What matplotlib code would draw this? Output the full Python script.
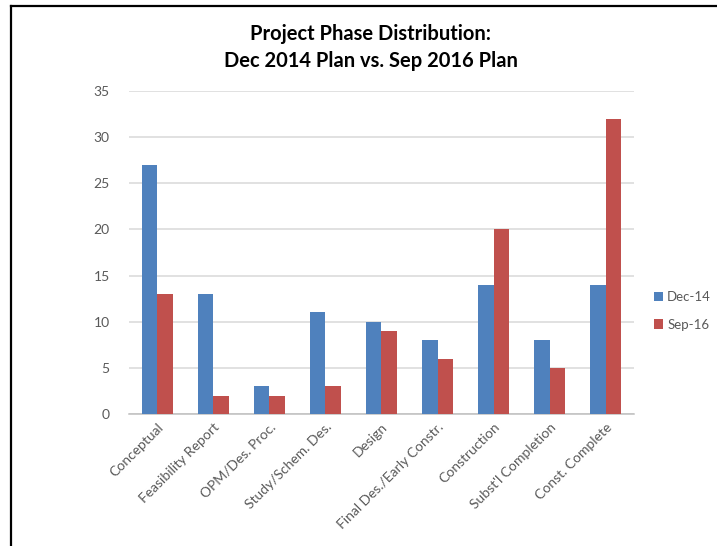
import matplotlib
matplotlib.use("Agg")
import matplotlib.pyplot as plt
from matplotlib.lines import Line2D
from matplotlib.patches import Patch
import numpy as np

# phase counts per plan
phases = ["Conceptual", "Feasibility Report", "OPM/Des. Proc.", "Study/Schem. Des.",
          "Design", "Final Des./Early Constr.", "Construction", "Subst'l Completion",
          "Const. Complete"]
dec_14 = [27, 13, 3, 11, 10, 8, 14, 8, 14]
sep_16 = [13, 2, 2, 3, 9, 6, 20, 5, 32]
series_names = ["Dec-14", "Sep-16"]
y_ticks = [0, 5, 10, 15, 20, 25, 30, 35]

BLUE = "#4F81BD"
RED = "#C0504D"
GRID = "#D9D9D9"
TEXT = "#595959"

plt.rcParams["font.family"] = ["Lato", "DejaVu Sans"]

fig = plt.figure(figsize=(7.17, 5.46), dpi=100)
ax = fig.add_axes([0.180, 0.2418, 0.704, 0.5916])

x = np.arange(len(phases))
w = 0.275
ax.bar(x - w / 2, dec_14, w, color=BLUE, label=series_names[0], zorder=3)
ax.bar(x + w / 2, sep_16, w, color=RED, label=series_names[1], zorder=3)

ax.set_xlim(-0.5, len(phases) - 0.5)
ax.set_ylim(0, 35)
ax.set_yticks(y_ticks)
ax.yaxis.grid(True, color=GRID, linewidth=1.1, zorder=0)
ax.set_axisbelow(True)
for side in ["top", "right", "left"]:
    ax.spines[side].set_visible(False)
ax.spines["bottom"].set_color("#BFBFBF")
ax.spines["bottom"].set_linewidth(1.1)
ax.tick_params(axis="y", length=0, pad=14, labelsize=10, labelcolor=TEXT)
ax.tick_params(axis="x", length=0, pad=5, labelsize=10, labelcolor=TEXT)
ax.set_xticks(x)
ax.set_xticklabels(phases, rotation=45, ha="right", rotation_mode="anchor")

fig.text(0.517, 0.937, "Project Phase Distribution:", ha="center", va="center",
         fontsize=14.5, fontweight="bold", color="black")
fig.text(0.517, 0.888, "Dec 2014 Plan vs. Sep 2016 Plan", ha="center", va="center",
         fontsize=14.5, fontweight="bold", color="black")

handles = [Patch(facecolor=BLUE, label=series_names[0]),
           Patch(facecolor=RED, label=series_names[1])]
fig.legend(handles=handles, loc="center left", bbox_to_anchor=(0.912, 0.431),
           frameon=False, fontsize=9.5, labelcolor=TEXT, handlelength=0.7,
           handleheight=0.7, handletextpad=0.3, labelspacing=1.2,
           borderaxespad=0, borderpad=0)

# frame lines along the top and left edges
fig.add_artist(Line2D([10.5 / 717, 1.0], [1 - 5.5 / 546] * 2, transform=fig.transFigure,
                      color="black", linewidth=1.6))
fig.add_artist(Line2D([10.5 / 717] * 2, [0.0, 1 - 5.5 / 546], transform=fig.transFigure,
                      color="black", linewidth=1.6))

fig.savefig("out.png", dpi=100)
